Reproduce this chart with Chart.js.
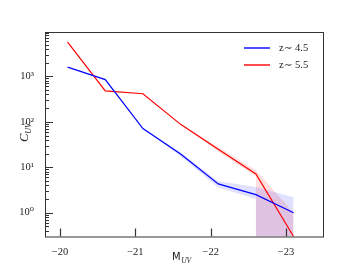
<!DOCTYPE html>
<html>
<head>
<meta charset="utf-8">
<script src="https://cdn.jsdelivr.net/npm/chart.js@4"></script>
<style>
  html, body { margin: 0; padding: 0; background: #fff; }
  #wrap { width: 360px; height: 270px; }
</style>
</head>
<body>
<div id="wrap"><canvas id="myChart" width="360" height="270"></canvas></div>
<script>
// absolute UV magnitude bins
var mag = [-20.1, -20.6, -21.1, -21.6, -22.1, -22.6, -23.1];
// clustering C_UV for each redshift
var cuvZ45 = [1600, 850, 71, 19.5, 4.3, 2.5, 1.0];
var cuvZ55 = [5700, 480, 415, 88, 25, 7.1, 0.3];

// error bands (lower bound drops to ~0 in the brightest bins)
var bandMagZ45 = [-21.1, -21.6, -22.1, -22.6, -22.6, -23.1];
var loZ45 = [71, 17.5, 3.6, 2.0, 0.05, 0.05];
var hiZ45 = [71, 21.5, 4.9, 3.7, 3.7, 2.2];
var bandMagZ55 = [-21.6, -22.1, -22.6, -22.6, -23.1];
var loZ55 = [88, 22, 6.3, 0.05, 0.05];
var hiZ55 = [88, 28, 8.6, 8.6, 1.0];

var xTicks = [-20, -21, -22, -23];
var yDecades = [-1, 0, 1, 2, 3];
var sup = { "-1": "\u207B\u00B9", "0": "\u2070", "1": "\u00B9", "2": "\u00B2", "3": "\u00B3" };

function pts(xs, ys) {
  return xs.map(function(x, i) { return { x: x, y: ys[i] }; });
}

var serif = "'Liberation Serif', 'DejaVu Serif', serif";

var decor = {
  id: "decor",
  afterDraw: function(chart) {
    var c = chart.ctx, a = chart.chartArea;
    var xs = chart.scales.x, ys = chart.scales.y;
    c.save();
    // frame
    c.strokeStyle = "#333";
    c.lineWidth = 1;
    c.strokeRect(a.left + 0.5, a.top + 0.5, a.right - a.left - 1, a.bottom - a.top);
    // x ticks, inward
    c.lineWidth = 1.2;
    xTicks.forEach(function(v) {
      var px = Math.round(xs.getPixelForValue(v)) + 0.5;
      c.beginPath(); c.moveTo(px, a.bottom); c.lineTo(px, a.bottom - 8); c.stroke();
    });
    // y ticks, major and minor
    c.lineWidth = 1;
    ys.ticks.forEach(function(t) {
      var py = Math.round(ys.getPixelForValue(t.value)) + 0.5;
      if (py < a.top || py > a.bottom) return;
      var e = Math.log10(t.value);
      var len = Math.abs(e - Math.round(e)) < 1e-6 ? 8 : 4;
      c.beginPath(); c.moveTo(a.left, py); c.lineTo(a.left + len, py); c.stroke();
    });
    // legend
    var leg = [["z\u223C 4.5", "blue"], ["z\u223C 5.5", "red"]];
    c.font = "10.5px " + serif;
    c.textBaseline = "middle";
    leg.forEach(function(l, i) {
      var y = 48 + i * 17;
      c.strokeStyle = l[1];
      c.lineWidth = 1.4;
      c.beginPath(); c.moveTo(244, y); c.lineTo(270, y); c.stroke();
      c.fillStyle = "#222";
      c.fillText(l[0], 279, y);
    });
    // axis titles
    c.textBaseline = "alphabetic";
    c.fillStyle = "#222";
    c.font = "10px 'DejaVu Sans', sans-serif";
    c.fillText("M", 172, 260);
    var mw = c.measureText("M").width;
    c.font = "italic 7.5px " + serif;
    c.fillText("UV", 172 + mw + 0.5, 262.5);

    c.translate(28, 142);
    c.rotate(-Math.PI / 2);
    c.font = "italic 12.5px " + serif;
    c.fillText("C", 0, 0);
    var cw = c.measureText("C").width;
    c.font = "italic 8px " + serif;
    c.fillText("UV", cw, 2.5);
    c.restore();
  }
};

var ctx = document.getElementById("myChart").getContext("2d");
new Chart(ctx, {
  type: "scatter",
  data: {
    datasets: [
      { label: "z~ 4.5", data: pts(mag, cuvZ45), showLine: true, borderColor: "blue", borderWidth: 1.2, pointRadius: 0, fill: false },
      { label: "z~ 5.5", data: pts(mag, cuvZ55), showLine: true, borderColor: "red", borderWidth: 1.2, pointRadius: 0, fill: false },
      { label: "hi45", data: pts(bandMagZ45, hiZ45), showLine: true, borderWidth: 0, borderColor: "rgba(0,0,255,0.12)", pointRadius: 0, fill: false },
      { label: "lo45", data: pts(bandMagZ45, loZ45), showLine: true, borderWidth: 0, borderColor: "rgba(0,0,255,0.12)", pointRadius: 0, fill: "-1", backgroundColor: "rgba(0,0,255,0.12)" },
      { label: "hi55", data: pts(bandMagZ55, hiZ55), showLine: true, borderWidth: 0, borderColor: "rgba(255,0,0,0.13)", pointRadius: 0, fill: false },
      { label: "lo55", data: pts(bandMagZ55, loZ55), showLine: true, borderWidth: 0, borderColor: "rgba(255,0,0,0.13)", pointRadius: 0, fill: "-1", backgroundColor: "rgba(255,0,0,0.13)" }
    ]
  },
  options: {
    responsive: false,
    animation: false,
    devicePixelRatio: 1,
    layout: { padding: { top: 32, right: 36, left: 0, bottom: 0 } },
    plugins: {
      legend: { display: false },
      tooltip: { enabled: false },
      filler: { drawTime: "beforeDatasetsDraw" }
    },
    scales: {
      x: {
        type: "linear",
        reverse: true,
        min: -23.504,
        max: -19.8,
        grid: { display: false },
        border: { display: false },
        afterBuildTicks: function(s) { s.ticks = xTicks.map(function(v) { return { value: v }; }); },
        afterFit: function(s) { s.height = 33.5; },
        ticks: {
          autoSkip: false,
          maxRotation: 0,
          padding: 1,
          color: "#222",
          font: { family: serif, size: 10.5 },
          callback: function(v) { return "\u2212" + Math.abs(v); }
        }
      },
      y: {
        type: "logarithmic",
        min: 0.3224,
        max: 9466,
        grid: { display: false },
        border: { display: false },
        afterBuildTicks: function(s) {
          var t = [];
          yDecades.forEach(function(e) {
            for (var m = 1; m < 10; m++) {
              var v = m * Math.pow(10, e);
              if (v >= s.min && v <= s.max) t.push({ value: v });
            }
          });
          s.ticks = t;
        },
        afterFit: function(s) { s.width = 45; },
        ticks: {
          autoSkip: false,
          padding: 3,
          color: "#222",
          font: { family: serif, size: 10.5 },
          callback: function(v) {
            var e = Math.round(Math.log10(v));
            return Math.abs(v - Math.pow(10, e)) < 1e-9 * v ? "10" + sup[e] : "";
          }
        }
      }
    }
  },
  plugins: [decor]
});
</script>
</body>
</html>
